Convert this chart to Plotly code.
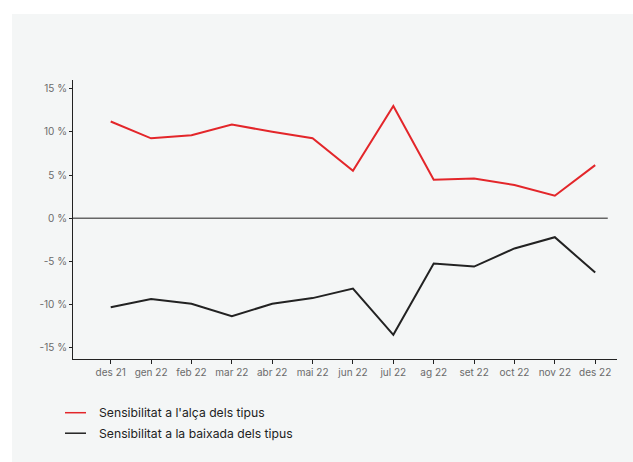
import plotly.graph_objects as go

months = ["des 21", "gen 22", "feb 22", "mar 22", "abr 22", "mai 22", "jun 22",
          "jul 22", "ag 22", "set 22", "oct 22", "nov 22", "des 22"]
alca = [11.2, 9.25, 9.6, 10.85, 10.0, 9.25, 5.5, 13.0, 4.45, 4.6, 3.85, 2.6, 6.15]
baixada = [-10.3, -9.35, -9.9, -11.35, -9.9, -9.25, -8.15, -13.5, -5.25, -5.6, -3.5, -2.2, -6.3]
series_names = ["Sensibilitat a l'alça dels tipus", "Sensibilitat a la baixada dels tipus"]
series_colors = ["#e3262a", "#222222"]
ytick_vals = [15, 10, 5, 0, -5, -10, -15]
ytick_text = ["15 %", "10 %", "5 %", "0 %", "-5 %", "-10 %", "-15 %"]

x = list(range(len(months)))
fig = go.Figure()
for name, vals, col in zip(series_names, [alca, baixada], series_colors):
    fig.add_trace(go.Scatter(x=x, y=vals, mode="lines", name=name,
                             line=dict(color=col, width=2), showlegend=False))

FONT = "Inter, Roboto, sans-serif"
fig.update_layout(
    width=633, height=462,
    margin=dict(l=73, r=16, t=80, b=103),
    paper_bgcolor="white", plot_bgcolor="rgba(0,0,0,0)",
    font=dict(family=FONT, size=10, color="#6b6b6b"),
    xaxis=dict(range=[-0.934, 12.54], tickvals=x, ticktext=months,
               showgrid=False, zeroline=False, showline=True, linecolor="#222",
               linewidth=1, ticks="outside", ticklen=4, tickcolor="#222",
               tickfont=dict(size=10, color="#6b6b6b")),
    yaxis=dict(range=[-16.3, 16.0], tickvals=ytick_vals, ticktext=ytick_text,
               showgrid=False, zeroline=False, showline=True, linecolor="#222",
               linewidth=1, ticks="outside", ticklen=3, tickcolor="#222",
               tickfont=dict(size=10, color="#6b6b6b")),
)

# background panel
fig.add_shape(type="rect", xref="paper", yref="paper", x0=-0.112, x1=1.05,
              y0=-0.4, y1=1.2366, fillcolor="#f4f6f6", line=dict(width=0), layer="below")
# zero line
fig.add_shape(type="line", xref="paper", yref="y", x0=0, x1=0.983, y0=0, y1=0,
              line=dict(color="#666666", width=1.5), layer="below")

# legend
ys = [-0.1925, -0.266]
for name, col, yy in zip(series_names, series_colors, ys):
    fig.add_shape(type="line", xref="paper", yref="paper", x0=-0.0147, x1=0.0239,
                  y0=yy, y1=yy, line=dict(color=col, width=1.5))
    fig.add_annotation(xref="paper", yref="paper", x=0.044, y=yy, text=name,
                       showarrow=False, xanchor="left", yanchor="middle",
                       font=dict(family=FONT, size=12.2, color="#222"))

fig.write_html("out.html", config={"displayModeBar": False},
               post_script="document.body.style.margin='0';document.body.style.overflow='hidden';")
